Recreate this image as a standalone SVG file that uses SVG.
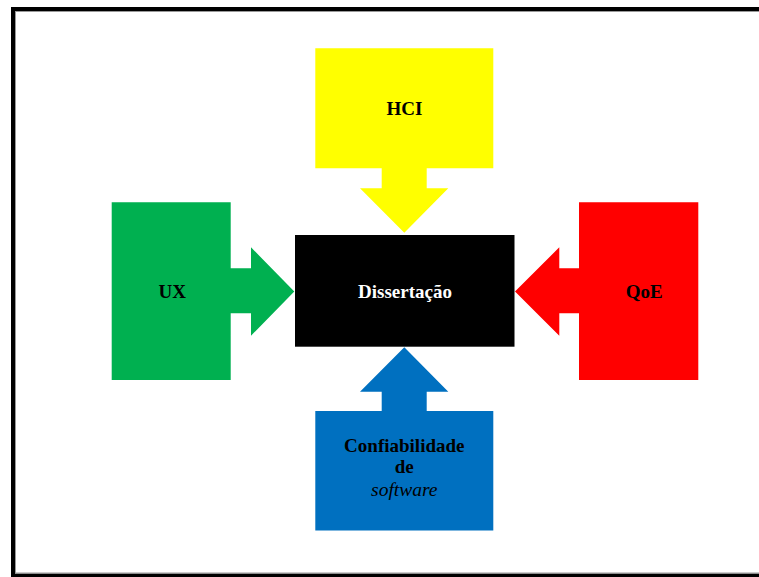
<svg xmlns="http://www.w3.org/2000/svg" width="759" height="577" viewBox="0 0 759 577">
<style>
.lbl{font-family:"Liberation Serif","Times New Roman",serif;font-weight:bold;font-size:19px;text-anchor:middle;fill:#000}
.w{fill:#fff}
.it{font-style:italic;font-weight:normal;font-size:19.5px}
</style>
<rect x="0" y="0" width="759" height="577" fill="#fff"/>
<rect x="13" y="9" width="760" height="566.5" fill="none" stroke="#000" stroke-width="4"/>
<rect x="15.5" y="11.5" width="760" height="561.5" fill="none" stroke="#999" stroke-width="1"/>
<g id="connectors"></g>
<g id="hci">
<polygon fill="#FFFF00" points="315.3,48.3 493.3,48.3 493.3,168.3 426.7,168.3 426.7,188.3 448.3,188.3 404.3,232.7 360,188.3 381.7,188.3 381.7,168.3 315.3,168.3"/>
<text class="lbl" x="404.5" y="115">HCI</text>
</g>
<g id="ux">
<polygon fill="#00B050" points="111.7,202.3 230.7,202.3 230.7,268.3 251,268.3 251,247.3 294.3,291.5 251,335.7 251,313.3 230.7,313.3 230.7,380 111.7,380"/>
<text class="lbl" x="172.3" y="297.7">UX</text>
</g>
<g id="qoe">
<polygon fill="#FF0000" points="698.3,202.3 579,202.3 579,268.3 559.3,268.3 559.3,247.3 515,291.5 559.3,335.7 559.3,313.3 579,313.3 579,380 698.3,380"/>
<text class="lbl" x="644.3" y="298.3">QoE</text>
</g>
<g id="software">
<polygon fill="#0070C0" points="315.3,530.5 493.3,530.5 493.3,411 426.7,411 426.7,391.7 448.3,391.7 404.3,347.3 360,391.7 381.7,391.7 381.7,411 315.3,411"/>
<text class="lbl" x="404.3" y="451.7">Confiabilidade</text>
<text class="lbl" x="404.3" y="473.3">de</text>
<text class="lbl it" x="404.3" y="496">software</text>
</g>
<g id="dissertacao">
<rect x="295" y="235" width="219.5" height="111.7" fill="#000"/>
<text class="lbl w" x="405" y="297.7">Dissertação</text>
</g>
</svg>
